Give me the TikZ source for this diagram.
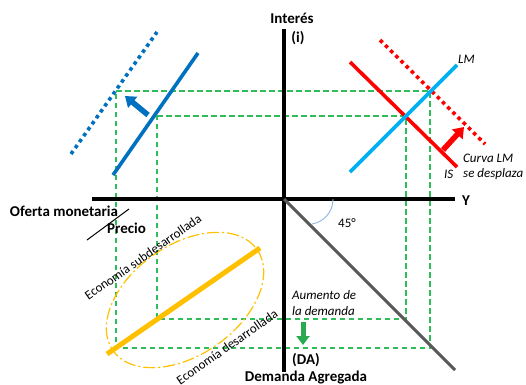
\documentclass[tikz,border=0pt]{standalone}
\usepackage{fontspec}
\setmainfont{Carlito}
\usetikzlibrary{arrows.meta}
\definecolor{cblue}{HTML}{0070C0}
\definecolor{ccyan}{HTML}{00B0F0}
\definecolor{cred}{HTML}{FF0000}
\definecolor{cgreen}{HTML}{2EBD59}
\definecolor{cyel}{HTML}{FFC000}
\definecolor{cgray}{HTML}{595959}
\definecolor{carc}{HTML}{8EB4E3}
\begin{document}
\begin{tikzpicture}[x=1pt,y=-1pt,
 axis/.style={line width=4pt, black},
 guide/.style={cgreen, line width=1.4pt, dash pattern=on 5.5pt off 3.5pt},
 curve/.style={line width=3.6pt},
 dotcurve/.style={line width=3.6pt, dash pattern=on 3.6pt off 3.7pt},
 lbl/.style={font=\fontsize{15}{17}\selectfont\bfseries, inner sep=0},
 itl/.style={font=\fontsize{13}{15}\selectfont\itshape, inner sep=0, anchor=west},
 blk/.style={line width=5.5pt, -{Triangle[width=14pt,length=10pt]}},
 rot/.style={font=\fontsize{13}{15}\selectfont, inner sep=0, rotate=35},
]
\useasboundingbox (0,0) rectangle (526,384);
% key coordinates
\coordinate (O) at (284,199);
\coordinate (ytop) at (284,29);
\coordinate (ybot) at (284,372);
\coordinate (xl) at (92,199);
\coordinate (xr) at (455,199);
\coordinate (E1) at (406,116);
\coordinate (E2) at (430,91);
\coordinate (A1) at (157,116);
\coordinate (A2) at (116,91);
\coordinate (D1) at (406,319);
\coordinate (D2) at (430,348);
\coordinate (B1) at (157,319);
\coordinate (B2) at (116,348);
% green guides
\draw[guide] (A2) -- (E2) -- (D2) -- (B2) -- cycle;
\draw[guide] (A1) -- (E1) -- (D1) -- (B1) -- cycle;
% axes
\draw[axis] (ytop) -- (ybot);
\draw[axis] (xl) -- (xr);
% 45 degree line
\coordinate (g2) at (455,370);
\draw[cgray, line width=3pt] (O) -- (g2);
\coordinate (arcA) at (333,199);
\coordinate (arcB) at (312,224);
\draw[carc, line width=0.9pt] (arcA) .. controls (333,213) and (323,222) .. (arcB);
\node[font=\fontsize{13}{15}\selectfont, inner sep=0] (deg) at (347,223) {45°};
% IS-LM quadrant
\coordinate (is1) at (350,62);
\coordinate (is2) at (457,167);
\coordinate (isd1) at (380,40);
\coordinate (isd2) at (485,144);
\coordinate (lm1) at (350,172);
\coordinate (lm2) at (457,65);
\draw[cred, curve] (is1) -- (is2);
\draw[cred, dotcurve] (isd1) -- (isd2);
\draw[ccyan, curve] (lm1) -- (lm2);
\coordinate (ra1) at (443,150);
\coordinate (ra2) at (464,127);
\draw[cred, blk] (ra1) -- (ra2);
% blue quadrant
\coordinate (bl1) at (113,175);
\coordinate (bl2) at (198,53);
\coordinate (bd1) at (71,154);
\coordinate (bd2) at (157,32);
\draw[cblue, curve] (bl1) -- (bl2);
\draw[cblue, dotcurve] (bd1) -- (bd2);
\coordinate (ba1) at (148,115);
\coordinate (ba2) at (125,96);
\draw[cblue, blk] (ba1) -- (ba2);
% yellow quadrant
\coordinate (y1) at (107,354);
\coordinate (y2) at (260,248);
\draw[cyel, line width=5pt] (y1) -- (y2);
\coordinate (ec) at (185,300);
\draw[cyel, line width=1.2pt, dash pattern=on 12pt off 3pt on 2pt off 3pt, rotate around={35:(ec)}] (ec) ellipse [x radius=88, y radius=55];
\node[rot] (sub) at (143,257) {Economía subdesarrollada};
\node[rot] (des) at (227,347) {Economía desarrollada};
% green arrow
\coordinate (ga1) at (303,322);
\coordinate (ga2) at (303,345);
\draw[cgreen!90!black, line width=5pt, -{Triangle[width=13pt,length=9pt]}] (ga1) -- (ga2);
% labels
\node[lbl] (int) at (292,18) {Interés};
\node[lbl] (ii) at (298,38) {(i)};
\node[lbl] (Y) at (466,201) {Y};
\node[lbl] (DA) at (306,360) {(DA)};
\node[lbl] (dag) at (306,377) {Demanda Agregada};
\node[lbl] (om) at (64,211) {Oferta monetaria};
\node[lbl, anchor=west] (pr) at (107,228) {Precio};
\coordinate (sl1) at (87,240);
\coordinate (sl2) at (129,209);
\draw[black, line width=1pt] (sl1) -- (sl2);
\node[itl] (LM) at (458,59) {LM};
\node[itl] (IS) at (444,174) {IS};
\node[itl] (cl) at (463,158) {Curva LM};
\node[itl] (sd) at (463,174) {se desplaza};
\node[itl] (au) at (292,295) {Aumento de};
\node[itl] (ld) at (292,311) {la demanda};
\end{tikzpicture}
\end{document}
